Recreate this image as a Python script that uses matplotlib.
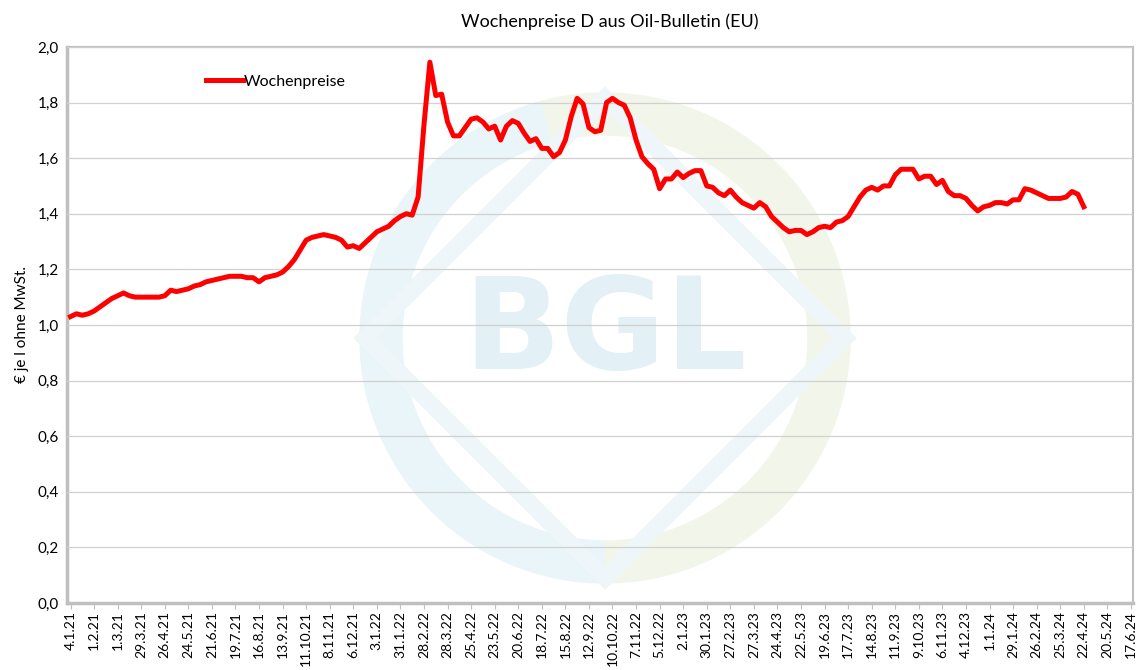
import pandas as pd
import matplotlib.pyplot as plt
from matplotlib.patches import Wedge, Polygon

plt.rcParams["font.family"] = ["Lato", "DejaVu Sans"]

# Weekly prices, first week 4.1.21
start = "2021-01-04"
prices = [
    1.03, 1.04, 1.035, 1.04, 1.05, 1.065, 1.08, 1.095, 1.105, 1.115,
    1.105, 1.10, 1.10, 1.10, 1.10, 1.10, 1.105, 1.125, 1.12, 1.125,
    1.13, 1.14, 1.145, 1.155, 1.16, 1.165, 1.17, 1.175, 1.175, 1.175,
    1.17, 1.17, 1.155, 1.17, 1.175, 1.18, 1.19, 1.21, 1.235, 1.27,
    1.305, 1.315, 1.32, 1.325, 1.32, 1.315, 1.305, 1.28, 1.285, 1.275,
    1.295, 1.315, 1.335, 1.345, 1.355, 1.375, 1.39, 1.40, 1.395, 1.46,
    1.72, 1.945, 1.825, 1.83, 1.73, 1.68, 1.68, 1.71, 1.74, 1.745,
    1.73, 1.705, 1.715, 1.665, 1.715, 1.735, 1.725, 1.69, 1.66, 1.67,
    1.635, 1.635, 1.605, 1.62, 1.665, 1.75, 1.815, 1.795, 1.71, 1.695,
    1.70, 1.80, 1.815, 1.80, 1.79, 1.745, 1.665, 1.605, 1.58, 1.56,
    1.49, 1.525, 1.525, 1.55, 1.53, 1.545, 1.555, 1.555, 1.50, 1.495,
    1.475, 1.465, 1.485, 1.46, 1.44, 1.43, 1.42, 1.44, 1.425, 1.39,
    1.37, 1.35, 1.335, 1.34, 1.34, 1.325, 1.335, 1.35, 1.355, 1.35,
    1.37, 1.375, 1.39, 1.425, 1.46, 1.485, 1.495, 1.485, 1.50, 1.50,
    1.54, 1.56, 1.56, 1.56, 1.525, 1.535, 1.535, 1.505, 1.52, 1.48,
    1.465, 1.465, 1.455, 1.43, 1.41, 1.425, 1.43, 1.44, 1.44, 1.435,
    1.45, 1.45, 1.49, 1.485, 1.475, 1.465, 1.455, 1.455, 1.455, 1.46,
    1.48, 1.47, 1.425,
]
dates = pd.date_range(start, periods=len(prices), freq="7D")
tick_dates = pd.date_range(start, "2024-06-17", freq="28D")
tick_labels = [f"{d.day}.{d.month}.{d.strftime('%y')}" for d in tick_dates]
y_ticks = [0.0, 0.2, 0.4, 0.6, 0.8, 1.0, 1.2, 1.4, 1.6, 1.8, 2.0]

fig = plt.figure(figsize=(11.38, 6.70), dpi=100)
ax = fig.add_axes([0.059, 0.1, 0.937, 0.83])

# faint BGL watermark behind the data (inch coordinates keep the circle round)
cx, cy, r = 6.05, 3.32, 2.45
tr = fig.dpi_scale_trans
ax.add_patch(Wedge((cx, cy), r, 105, 270, width=0.42, transform=tr,
                   color="#eaf5f9", zorder=0.2))
ax.add_patch(Wedge((cx, cy), r, 270, 465, width=0.42, transform=tr,
                   color="#f2f6ea", zorder=0.2))
d = 2.4
ax.add_patch(Polygon([(cx - d, cy), (cx, cy + d), (cx + d, cy), (cx, cy - d)],
                     closed=True, fill=False, edgecolor="#eef6f9", linewidth=12,
                     transform=tr, zorder=0.3))
ax.text(cx, cy + 0.05, "BGL", transform=tr, ha="center", va="center",
        fontsize=92, fontweight="bold", color="#e3f0f5", family="DejaVu Sans",
        zorder=0.4)

ax.plot(dates, prices, color="#ff0000", linewidth=3.6, label="Wochenpreise",
        solid_joinstyle="round", zorder=3)

ax.set_ylim(0, 2.0)
ax.set_yticks(y_ticks)
ax.set_yticklabels([f"{v:.1f}".replace(".", ",") for v in y_ticks], fontsize=11)
ax.set_xlim(tick_dates[0] - pd.Timedelta(days=4), tick_dates[-1] + pd.Timedelta(days=3))
ax.set_xticks(tick_dates)
ax.set_xticklabels(tick_labels, rotation=90, fontsize=10)
ax.tick_params(axis="x", length=4, color="#bfbfbf", pad=2)
ax.tick_params(axis="y", length=0, pad=6)

ax.grid(axis="y", color="#d0d0d0", linewidth=0.9, zorder=1)
ax.set_axisbelow(False)
for side, lw in [("left", 2.5), ("bottom", 2.5), ("top", 1.5), ("right", 1.5)]:
    ax.spines[side].set_color("#bfbfbf")
    ax.spines[side].set_linewidth(lw)

ax.set_ylabel("€ je l ohne MwSt.", fontsize=11, labelpad=6)
fig.text(0.536, 0.968, "Wochenpreise D aus Oil-Bulletin (EU)", ha="center",
         va="center", fontsize=13)
ax.legend(loc="center left", bbox_to_anchor=(0.117, 0.937), frameon=False,
          handlelength=2.3, handletextpad=0.05, fontsize=11.5)

fig.savefig("out.png", dpi=100)
